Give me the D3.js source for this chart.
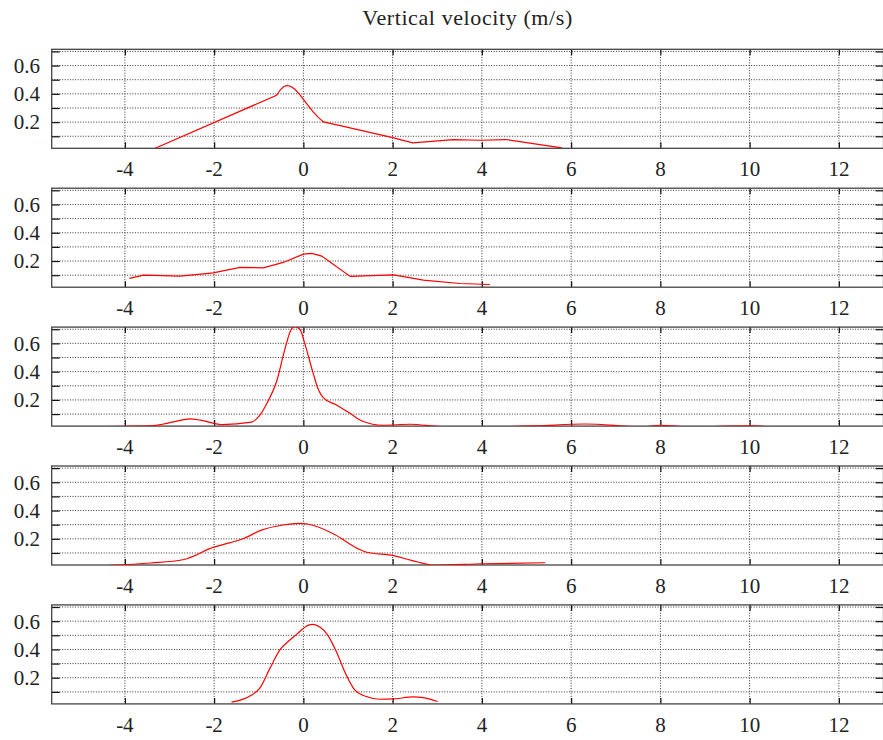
<!DOCTYPE html>
<html>
<head>
<meta charset="utf-8">
<script src="https://cdn.jsdelivr.net/npm/d3@7"></script>
<style>
  html, body { margin: 0; padding: 0; background: #fff; }
  svg { display: block; }
</style>
</head>
<body>
<svg id="chart" width="883" height="740"></svg>
<script>
// Axis ticks and labels
const xTicks = [-4, -2, 0, 2, 4, 6, 8, 10, 12];
const yGrid = [0.1, 0.2, 0.3, 0.4, 0.5, 0.6, 0.7];
const yLabels = [0.2, 0.4, 0.6];
const titleText = "Vertical velocity (m/s)";

// Density estimates of vertical velocity, one per panel: [velocity, density]
const density1 = [[-3.32,0.015],[-0.60,0.39],[-0.52,0.427],[-0.44,0.452],[-0.36,0.46],[-0.28,0.452],[-0.19,0.432],[-0.08,0.395],[0.0,0.361],[0.10,0.32],[0.22,0.273],[0.34,0.232],[0.45,0.202],[0.90,0.17],[2.0,0.091],[2.45,0.053],[3.36,0.077],[3.96,0.072],[4.55,0.077],[5.79,0.018]];
const density2 = [[-3.90,0.077],[-3.58,0.100],[-2.76,0.093],[-2.02,0.116],[-1.42,0.155],[-0.90,0.152],[-0.45,0.19],[0.0,0.249],[0.19,0.254],[0.41,0.235],[1.05,0.091],[2.02,0.102],[2.69,0.065],[3.51,0.041],[4.18,0.034]];
const density3 = [[-5.64,0.005],[-4.0,0.014],[-3.36,0.019],[-2.91,0.045],[-2.54,0.066],[-2.31,0.057],[-1.83,0.026],[-1.16,0.043],[-0.98,0.09],[-0.82,0.175],[-0.60,0.33],[-0.41,0.565],[-0.28,0.695],[-0.19,0.72],[-0.07,0.695],[0.04,0.589],[0.22,0.388],[0.34,0.27],[0.45,0.215],[0.75,0.163],[1.05,0.104],[1.31,0.051],[1.79,0.021],[2.39,0.028],[3.06,0.012],[4.0,0.009],[5.2,0.016],[6.31,0.03],[7.61,0.009],[7.99,0.021],[8.66,0.009],[10.0,0.016],[11.05,0.005],[13.0,0.004]];
const density4 = [[-4.34,0.012],[-3.42,0.029],[-2.70,0.052],[-2.42,0.083],[-2.10,0.131],[-1.66,0.171],[-1.34,0.202],[-0.94,0.262],[-0.46,0.298],[-0.10,0.31],[0.10,0.305],[0.70,0.231],[1.22,0.131],[1.42,0.105],[2.02,0.081],[2.42,0.048],[2.94,0.014],[4.02,0.024],[5.42,0.031]];
const density5 = [[-1.61,0.027],[-1.16,0.078],[-0.98,0.125],[-0.75,0.266],[-0.53,0.395],[-0.31,0.465],[-0.16,0.505],[-0.01,0.546],[0.10,0.57],[0.22,0.577],[0.37,0.558],[0.55,0.5],[0.74,0.383],[0.96,0.219],[1.15,0.114],[1.41,0.067],[1.71,0.048],[2.01,0.05],[2.46,0.064],[2.68,0.06],[3.01,0.032]];
const panels = [density1, density2, density3, density4, density5];
const smooth = [false, false, true, true, true];

const FONT = "'Liberation Serif', 'DejaVu Serif', serif";
const svg = d3.select("#chart");
const left = 51.7, right = 883.5;
const firstTop = 49.3, step = 138.9, panelH = 99;

const x = d3.scaleLinear().domain([-5.64, 13.0]).range([left, right]);

svg.append("text")
  .attr("x", (left + right) / 2)
  .attr("y", 25)
  .attr("text-anchor", "middle")
  .attr("font-family", FONT)
  .attr("font-size", 22)
  .attr("letter-spacing", 0.6)
  .attr("fill", "#222")
  .text(titleText);

panels.forEach((data, i) => {
  const top = firstTop + i * step;
  const bottom = top + panelH;
  const y = d3.scaleLinear().domain([0.015, 0.715]).range([bottom, top]);
  const g = svg.append("g");

  const clipId = "clip" + i;
  svg.append("clipPath").attr("id", clipId)
    .append("rect").attr("x", left).attr("y", top)
    .attr("width", right - left).attr("height", panelH);

  // dotted grid
  g.selectAll(".hgrid").data(yGrid).join("line")
    .attr("x1", left).attr("x2", right)
    .attr("y1", d => y(d)).attr("y2", d => y(d))
    .attr("stroke", "#333").attr("stroke-width", 1)
    .attr("stroke-dasharray", "1,1.6");
  g.selectAll(".vgrid").data(xTicks).join("line")
    .attr("x1", d => x(d)).attr("x2", d => x(d))
    .attr("y1", top).attr("y2", bottom)
    .attr("stroke", "#333").attr("stroke-width", 1)
    .attr("stroke-dasharray", "1,1.6");

  // axes with inward ticks on all four sides
  g.append("g").attr("transform", `translate(${left},0)`)
    .call(d3.axisLeft(y).tickValues(yGrid).tickSize(-8).tickFormat(""))
    .call(a => a.select(".domain").remove());
  g.append("g").attr("transform", `translate(${right},0)`)
    .call(d3.axisRight(y).tickValues(yGrid).tickSize(-8).tickFormat(""))
    .call(a => a.select(".domain").remove());
  g.append("g").attr("transform", `translate(0,${bottom})`)
    .call(d3.axisBottom(x).tickValues(xTicks).tickSize(-6).tickFormat(""))
    .call(a => a.select(".domain").remove());
  g.append("g").attr("transform", `translate(0,${top})`)
    .call(d3.axisTop(x).tickValues(xTicks).tickSize(-6).tickFormat(""))
    .call(a => a.select(".domain").remove());
  g.selectAll(".tick line").attr("stroke", "#111").attr("stroke-width", 1.2);

  // frame
  g.append("rect")
    .attr("x", left).attr("y", top)
    .attr("width", right - left).attr("height", panelH)
    .attr("fill", "none").attr("stroke", "#444").attr("stroke-width", 1.3);

  // tick labels
  g.selectAll(".ylab").data(yLabels).join("text")
    .attr("x", 40).attr("y", d => y(d))
    .attr("dy", "0.35em")
    .attr("text-anchor", "end")
    .attr("font-family", FONT)
    .attr("font-size", 21)
    .attr("fill", "#222")
    .text(d => d3.format(".1f")(d));
  g.selectAll(".xlab").data(xTicks).join("text")
    .attr("x", d => x(d)).attr("y", bottom + 28)
    .attr("text-anchor", "middle")
    .attr("font-family", FONT)
    .attr("font-size", 21)
    .attr("fill", "#222")
    .text(d => String(d));

  // density curve
  const line = d3.line()
    .x(d => x(d[0])).y(d => y(d[1]))
    .curve(smooth[i] ? d3.curveMonotoneX : d3.curveLinear);
  svg.append("path")
    .datum(data)
    .attr("clip-path", `url(#${clipId})`)
    .attr("d", line)
    .attr("fill", "none")
    .attr("stroke", "#ff0000")
    .attr("stroke-width", 1.2);
});
</script>
</body>
</html>
